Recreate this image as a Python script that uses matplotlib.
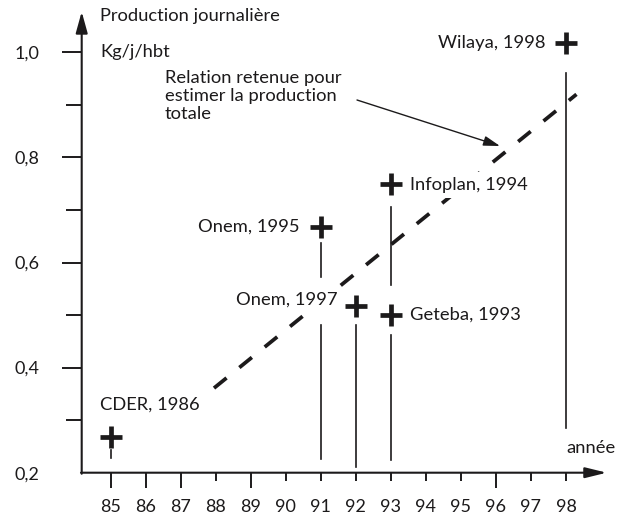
import matplotlib
matplotlib.use("Agg")
import matplotlib.pyplot as plt

# ---------------- data ----------------
sources = ["CDER, 1986", "Onem, 1995", "Onem, 1997", "Infoplan, 1994", "Geteba, 1993", "Wilaya, 1998"]
src_year = [85, 91, 92, 93, 93, 98]
src_value = [0.268, 0.667, 0.517, 0.749, 0.500, 1.017]
# vertical drop lines (y ranges) under each point
src_drops = [
    [(0.228, 0.243)],
    [(0.572, 0.638), (0.226, 0.481)],
    [(0.211, 0.481)],
    [(0.557, 0.705)],
    [(0.224, 0.462)],
    [(0.285, 0.961)],
]
trend_year = [87.95, 98.3]
trend_value = [0.361, 0.920]

x_long_ticks = [85, 86, 87, 89, 96]
x_short_ticks = [88, 90, 91, 92, 93, 94, 95, 97, 98]
y_major_ticks = [0.2, 0.4, 0.6, 0.8, 1.0]
y_major_labels = ["0,2", "0,4", "0,6", "0,8", "1,0"]
y_minor_ticks = [0.3, 0.5, 0.7, 0.9]

# ---------------- layout ----------------
W, H, DPI = 627, 517, 100
px_x0, px_per_year = 110.7, 35.02     # pixel of year 85, px per year
py_y02, py_per_unit = 472.7, 525.5    # pixel of 0.2, px per 1.0

def X(px):
    return 85 + (px - px_x0) / px_per_year

def Y(py):
    return 0.2 + (py_y02 - py) / py_per_unit

BLACK = "#1c1a1b"
plt.rcParams["font.family"] = ["Lato", "DejaVu Sans"]
FS = 13.2
FT = 13.0

fig = plt.figure(figsize=(W / DPI, H / DPI), dpi=DPI)
ax = fig.add_axes([0, 0, 1, 1])
ax.set_xlim(X(0), X(W))
ax.set_ylim(Y(H), Y(0))

x_axis_pos = X(81.7)
for s in ["top", "right", "left", "bottom"]:
    ax.spines[s].set_visible(False)
ax.spines["left"].set_position(("data", x_axis_pos))
ax.spines["bottom"].set_position(("data", 0.2))

# axes lines with arrows
ax.annotate("", xy=(x_axis_pos, Y(11.7)), xytext=(x_axis_pos, 0.2 - 0.002),
            arrowprops=dict(arrowstyle="-|>,head_length=13,head_width=3.6", lw=1.5,
                            color=BLACK, shrinkA=0, shrinkB=0, mutation_scale=1))
ax.annotate("", xy=(X(606.7), 0.2), xytext=(x_axis_pos - 0.02, 0.2),
            arrowprops=dict(arrowstyle="-|>,head_length=13,head_width=3.2", lw=1.5,
                            color=BLACK, shrinkA=0, shrinkB=0, mutation_scale=1))

# ticks
ax.set_xticks(x_long_ticks, labels=[str(v) for v in x_long_ticks])
ax.set_xticks(x_short_ticks, labels=[str(v) for v in x_short_ticks], minor=True)
ax.tick_params(axis="x", which="major", direction="out", length=10.8, width=1.4,
               pad=7.9, labelsize=FT, colors=BLACK)
ax.tick_params(axis="x", which="minor", direction="out", length=5.8, width=1.4,
               pad=12.9, labelsize=FT, colors=BLACK)
ax.set_yticks(y_major_ticks, labels=y_major_labels)
ax.set_yticks(y_minor_ticks, minor=True)
ax.tick_params(axis="y", which="major", direction="out", length=14.4, width=1.4,
               pad=15.8, labelsize=FT, colors=BLACK)
ax.tick_params(axis="y", which="minor", direction="out", length=11.2, width=1.4,
               colors=BLACK)
ax.yaxis.get_major_ticks()[0].tick1line.set_visible(False)

# trend line
ax.plot(trend_year, trend_value, color=BLACK, lw=2.7, dashes=(4.3, 4.4),
        dash_capstyle="butt", zorder=2)

# drop lines
for yr, drops in zip(src_year, src_drops):
    for y0, y1 in drops:
        ax.plot([yr, yr], [y0, y1], color=BLACK, lw=1.2, zorder=2.5)

# points
ax.plot(src_year, src_value, linestyle="none", marker="+", markersize=16,
        markeredgewidth=3.4, color=BLACK, zorder=4)

# labels for points (white boxes mask the dashed line as in the original)
label_pos = [
    (X(100), Y(405), "left"),
    (X(299), Y(227), "right"),
    (X(338), Y(300), "right"),
    (X(410), Y(185), "left"),
    (X(410), Y(315), "left"),
    (X(545), Y(43), "right"),
]
for name, (lx, ly, ha) in zip(sources, label_pos):
    ax.text(lx, ly, name, ha=ha, va="center", fontsize=FS, color=BLACK, zorder=3,
            bbox=dict(boxstyle="square,pad=0.25", fc="white", ec="none"))

ax.text(X(100), Y(16), "Production journalière", ha="left", va="center", fontsize=FS, color=BLACK)
ax.text(X(100), Y(52), "Kg/j/hbt", ha="left", va="center", fontsize=FS, color=BLACK)
ax.text(X(566), Y(448), "année", ha="left", va="center", fontsize=FS, color=BLACK)
ax.text(X(165), Y(70), "Relation retenue pour\nestimer la production\ntotale",
        ha="left", va="top", fontsize=FS, color=BLACK, linespacing=1.15)

ax.annotate("", xy=(X(500), Y(146)), xytext=(X(357), Y(100)),
            arrowprops=dict(arrowstyle="-|>,head_length=10,head_width=3", lw=1.0,
                            color=BLACK, shrinkA=0, shrinkB=0, mutation_scale=1))

fig.savefig("out.png", dpi=DPI)
